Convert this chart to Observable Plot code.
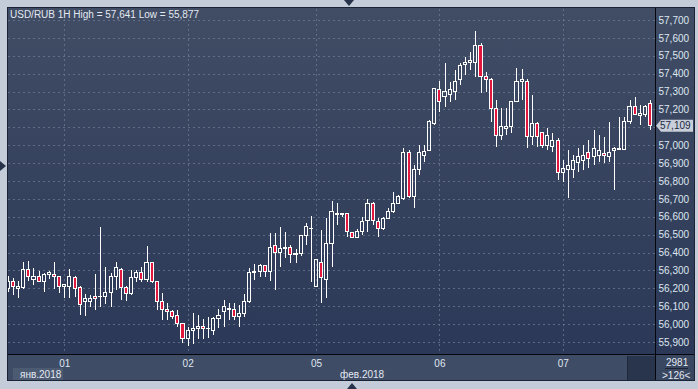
<!DOCTYPE html>
<html><head><meta charset="utf-8">
<script src="https://cdn.jsdelivr.net/npm/d3@7"></script>
<script src="https://cdn.jsdelivr.net/npm/@observablehq/plot@0.6"></script>
<style>
html,body{margin:0;padding:0;background:#c3ccd8;}
#wrap{position:relative;width:698px;height:389px;overflow:hidden;background:#c3ccd8;font-family:"Liberation Sans",Arial,sans-serif;}
.abs{position:absolute;}
.txt{position:absolute;font-size:10px;color:#e3e9f1;white-space:nowrap;line-height:10px;}
#chart svg{shape-rendering:crispEdges;}
</style></head><body>
<div id="wrap">
  <div class="abs" style="left:7px;top:7px;width:688px;height:374px;background:#1a2335;"></div>
  <div class="abs" style="left:8px;top:8px;width:686px;height:346px;background:linear-gradient(#414d65,#2b3857);"></div>
  <div class="abs" style="left:8px;top:355px;width:647px;height:25px;background:#3f4c66;"></div>
  <div class="abs" style="left:656px;top:355px;width:38px;height:25px;background:#3a4761;"></div>
  <div class="abs" style="left:627px;top:356px;width:27px;height:24px;background:#29344d;border-left:1px solid #1f283a;"></div>
  <div class="abs" style="left:13px;top:368px;width:50px;height:12px;background:#4c5a72;"></div>
  <div class="abs" style="left:665px;top:368px;width:23px;height:1px;background:#1c2436;"></div>
  <div class="abs" style="left:344px;top:0;width:0;height:0;border-left:5px solid transparent;border-right:5px solid transparent;border-top:6px solid #27334a;"></div>
  <div class="abs" style="left:0;top:161px;width:0;height:0;border-top:5px solid transparent;border-bottom:5px solid transparent;border-left:6px solid #27334a;"></div>
  <div class="abs" style="left:347px;top:383px;width:0;height:0;border-left:5px solid transparent;border-right:5px solid transparent;border-bottom:6px solid #27334a;"></div>
  <div id="chart" class="abs" style="left:0;top:0;"></div>
  <div class="abs" style="left:655px;top:8px;width:1px;height:372px;background:#05070c;"></div>
  <div class="abs" style="left:8px;top:354px;width:686px;height:1px;background:#05070c;"></div>
  <div class="txt" style="left:10px;top:10px;">USD/RUB 1H High = 57,641 Low = 55,877</div>
  <div class="txt" style="left:20px;top:370px;">янв.2018</div>
  <div class="txt" style="left:340px;top:370px;">фев.2018</div>
  <div class="txt" style="left:666px;top:358px;">2981</div>
  <div class="txt" style="left:662px;top:371px;">&gt;126&lt;</div>
  <div id="last" class="abs" style="left:0;top:0;"></div>
</div>
<script>
const open = [56.197,56.241,56.197,56.202,56.303,56.252,56.264,56.241,56.275,56.280,
56.264,56.213,56.208,56.258,56.202,56.124,56.129,56.152,56.152,56.152,
56.174,56.264,56.308,56.202,56.169,56.258,56.286,56.252,56.342,56.241,
56.124,56.079,56.068,56.051,56.001,55.922,55.967,55.973,55.984,55.973,
55.967,56.029,56.068,56.090,56.079,56.040,56.062,56.124,56.286,56.292,
56.325,56.292,56.437,56.403,56.420,56.426,56.387,56.392,56.498,56.532,
56.208,56.347,56.252,56.448,56.610,56.610,56.616,56.510,56.487,56.515,
56.577,56.677,56.571,56.537,56.593,56.627,56.677,56.705,56.961,56.716,
56.862,56.945,56.973,57.124,57.309,57.270,57.286,57.303,57.370,57.454,
57.465,57.465,57.560,57.382,57.370,57.208,57.057,57.096,57.102,57.242,
57.359,57.359,57.046,57.124,57.069,57.001,56.995,57.029,56.850,56.862,
56.862,56.906,56.917,56.961,56.939,56.945,56.956,56.939,56.973,56.984,
56.978,57.130,57.214,57.164,57.169,57.236];
const high = [56.269,56.258,56.241,56.347,56.353,56.314,56.297,56.286,56.297,56.347,
56.269,56.219,56.308,56.269,56.213,56.169,56.163,56.280,56.543,56.320,
56.286,56.347,56.314,56.213,56.303,56.303,56.320,56.437,56.347,56.241,
56.174,56.118,56.079,56.079,56.006,55.984,56.062,56.051,56.029,56.040,
56.040,56.085,56.135,56.118,56.118,56.107,56.169,56.314,56.336,56.336,
56.331,56.510,56.510,56.543,56.515,56.442,56.420,56.498,56.566,56.605,
56.359,56.526,56.593,56.688,56.677,56.621,56.621,56.515,56.532,56.599,
56.700,56.683,56.593,56.599,56.649,56.739,56.722,56.984,56.973,56.889,
57.001,57.001,57.141,57.320,57.359,57.460,57.354,57.421,57.460,57.493,
57.521,57.641,57.571,57.409,57.376,57.253,57.208,57.208,57.242,57.432,
57.426,57.370,57.281,57.130,57.074,57.096,57.069,57.040,56.917,56.973,
56.945,56.984,57.001,57.029,57.085,57.057,57.046,57.130,56.989,57.158,
57.158,57.253,57.270,57.225,57.225,57.253];
const low = [56.180,56.163,56.146,56.197,56.241,56.219,56.236,56.180,56.252,56.197,
56.174,56.146,56.146,56.152,56.051,56.046,56.096,56.079,56.096,56.113,
56.096,56.191,56.135,56.129,56.163,56.236,56.236,56.236,56.230,56.079,
56.023,56.023,56.029,55.984,55.894,55.877,55.889,55.917,55.917,55.922,
55.939,55.978,55.984,56.023,56.023,55.984,56.040,56.118,56.247,56.264,
56.264,56.241,56.191,56.320,56.370,56.342,56.342,56.381,56.442,56.236,
56.208,56.118,56.146,56.320,56.554,56.599,56.487,56.487,56.487,56.498,
56.515,56.554,56.487,56.526,56.588,56.621,56.677,56.694,56.705,56.649,
56.833,56.906,56.973,57.113,57.186,57.214,57.242,57.253,57.337,57.393,
57.421,57.382,57.292,57.298,57.130,56.989,57.029,57.057,57.069,57.242,
57.253,56.984,57.001,56.989,56.984,56.973,56.961,56.806,56.794,56.705,
56.817,56.850,56.862,56.872,56.889,56.906,56.900,56.906,56.750,56.973,
56.973,57.119,57.169,57.113,57.158,57.085];
const close = [56.236,56.208,56.208,56.303,56.264,56.264,56.241,56.280,56.286,56.264,
56.213,56.219,56.264,56.197,56.107,56.146,56.146,56.141,56.157,56.174,
56.264,56.314,56.202,56.169,56.258,56.286,56.252,56.342,56.241,56.124,
56.079,56.068,56.040,56.001,55.922,55.967,55.973,55.984,55.973,55.978,
56.034,56.051,56.096,56.079,56.040,56.062,56.124,56.286,56.292,56.325,
56.292,56.431,56.398,56.420,56.431,56.387,56.392,56.498,56.543,56.537,
56.359,56.258,56.448,56.627,56.616,56.621,56.515,56.487,56.515,56.571,
56.677,56.577,56.537,56.593,56.627,56.677,56.711,56.961,56.716,56.862,
56.961,56.967,57.135,57.315,57.242,57.298,57.309,57.354,57.443,57.465,
57.471,57.560,57.382,57.370,57.208,57.057,57.102,57.102,57.242,57.359,
57.365,57.046,57.124,57.046,57.001,57.057,57.029,56.850,56.872,56.889,
56.917,56.939,56.945,56.928,56.984,56.973,56.945,56.961,56.984,56.978,
57.130,57.214,57.169,57.175,57.214,57.109];
const yTicks = [55.9,56.0,56.1,56.2,56.3,56.4,56.5,56.6,56.7,56.8,56.9,57.0,57.1,57.2,57.3,57.4,57.5,57.6,57.7];
const dayStart = [11, 35, 60, 84, 108];
const dayLabels = ["01", "02", "05", "06", "07"];

const data = open.map((o, k) => ({k, open: o, high: high[k], low: low[k], close: close[k]}));
const up = data.filter(d => d.close >= d.open);
const down = data.filter(d => d.close < d.open);
const fmt = v => d3.format(".3f")(v).replace(".", ",");
const grid = "#6f7d96";
const lastVal = close[close.length - 1];
// the last-price marker hides the axis label it sits on
const labelTicks = yTicks.filter(v => Math.abs(v - lastVal) > 0.05);

const chart = Plot.plot({
  width: 698, height: 389,
  marginLeft: 8, marginRight: 43, marginTop: 9, marginBottom: 35,
  style: {background: "transparent", fontFamily: "Liberation Sans, Arial, sans-serif", fontSize: "10px", color: "#dfe6ef", overflow: "visible"},
  x: {domain: [0.04, 125.96], axis: null},
  y: {domain: [55.833, 57.7615], axis: null},
  marks: [
    Plot.ruleY(yTicks, {stroke: grid, strokeOpacity: 0.7, strokeDasharray: "2,3"}),
    Plot.ruleX(dayStart, {stroke: grid, strokeOpacity: 0.7, strokeDasharray: "2,3"}),
    Plot.ruleX(data, {x: "k", y1: "high", y2: d => Math.max(d.open, d.close), stroke: "#ffffff", clip: true}),
    Plot.ruleX(data, {x: "k", y1: d => Math.min(d.open, d.close), y2: "low", stroke: "#ffffff", clip: true}),
    Plot.rect(up, {x1: d => d.k - 0.3, x2: d => d.k + 0.3, y1: "open", y2: "close", fill: "none", stroke: "#ffffff", clip: true}),
    Plot.rect(down, {x1: d => d.k - 0.3, x2: d => d.k + 0.3, y1: "open", y2: "close", fill: "#e2173d", stroke: "#ffffff", clip: true}),
    Plot.axisY({ticks: labelTicks, anchor: "right", tickSize: 0, tickPadding: 3, tickFormat: fmt, fill: "#dfe6ef", label: null}),
    Plot.axisX({ticks: dayStart, anchor: "bottom", tickSize: 0, tickPadding: 5, tickFormat: d => dayLabels[dayStart.indexOf(d)], fill: "#dfe6ef", label: null})
  ]
});
document.getElementById("chart").appendChild(chart);

const yp = chart.scale("y").apply(lastVal);
const ns = "http://www.w3.org/2000/svg";
const svg = document.createElementNS(ns, "svg");
svg.setAttribute("width", 698); svg.setAttribute("height", 389);
svg.style.position = "absolute"; svg.style.left = "0"; svg.style.top = "0";
const poly = document.createElementNS(ns, "polygon");
poly.setAttribute("points", `656,${yp} 661,${yp-6} 693,${yp-6} 693,${yp+6} 661,${yp+6}`);
poly.setAttribute("fill", "#c8cfda");
svg.appendChild(poly);
const t = document.createElementNS(ns, "text");
t.setAttribute("x", 660); t.setAttribute("y", yp); t.setAttribute("dy", "0.35em");
t.setAttribute("font-size", "10px"); t.setAttribute("font-family", "Liberation Sans, Arial, sans-serif");
t.setAttribute("fill", "#1c2842");
t.textContent = fmt(lastVal);
svg.appendChild(t);
document.getElementById("last").appendChild(svg);
</script>
</body></html>
